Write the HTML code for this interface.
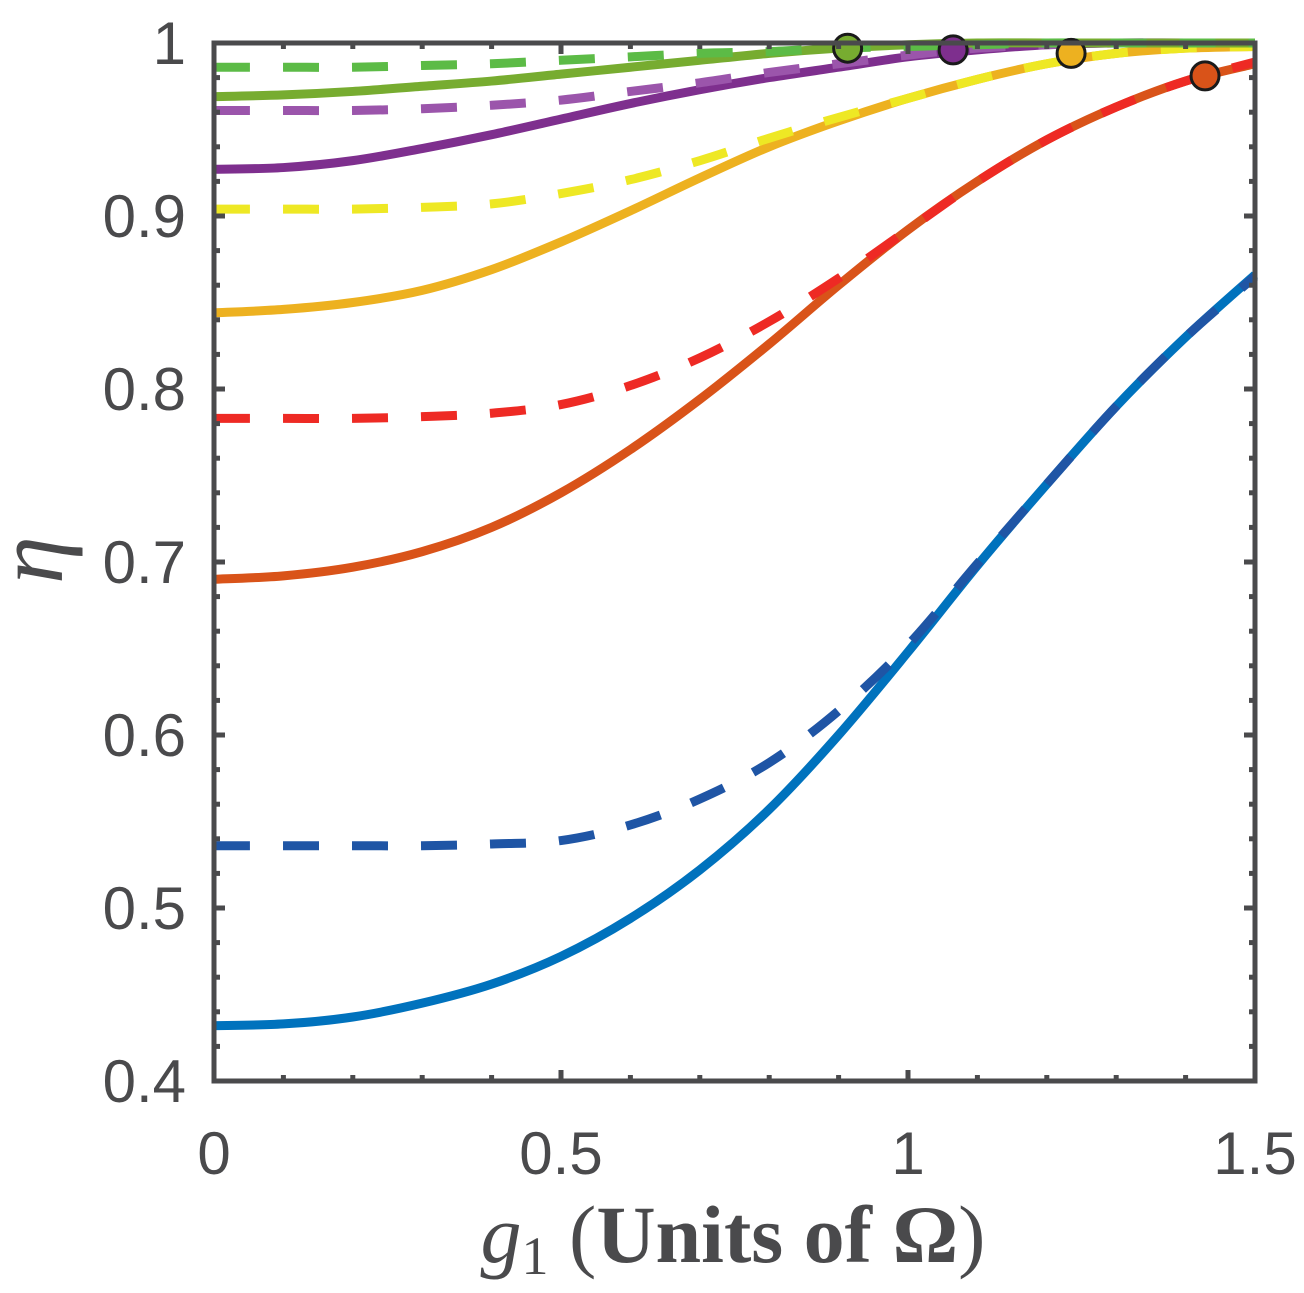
<!DOCTYPE html>
<html><head><meta charset="utf-8"><style>
html,body{margin:0;padding:0;background:#fff;}
svg{display:block;}
</style></head><body>
<svg id="chart" width="1304" height="1293" xmlns="http://www.w3.org/2000/svg">
<g id="plot"></g>
<g id="axes"></g>
<text transform="translate(62,560) rotate(-90)" text-anchor="middle" font-family="Liberation Serif, serif" font-style="italic" font-size="96" fill="#4a4a4c">η</text>
<text x="733" y="1262" text-anchor="middle" font-family="Liberation Serif, serif" font-size="82" fill="#4a4a4c"><tspan font-style="italic">g</tspan><tspan font-size="54" dy="12">1</tspan><tspan dy="-12"> (</tspan><tspan font-weight="bold">Units of Ω</tspan>)</text>
</svg>
<script>
const xs = [0,0.1,0.2,0.3,0.4,0.5,0.6,0.7,0.8,0.9,1.0,1.1,1.2,1.3,1.4,1.5];
const blueSolid = [.432,.433,.437,.445,.456,.472,.494,.522,.557,.600,.648,.698,.745,.790,.830,.866];
const blueDashed = [.536,.536,.536,.536,.537,.539,.548,.563,.584,.614,.652,.699,.745,.790,.830,.865];
const orangeSolid = [.690,.692,.697,.706,.720,.740,.765,.794,.826,.860,.892,.920,.944,.963,.978,.988];
const redDashed = [.783,.783,.783,.784,.786,.791,.802,.818,.839,.864,.892,.920,.944,.963,.978,.989];
const yellowSolid = [.844,.846,.850,.857,.869,.885,.903,.922,.940,.955,.968,.979,.988,.994,.997,.998];
const yellowDashed = [.904,.904,.904,.905,.907,.913,.921,.932,.945,.957,.968,.979,.988,.994,.997,.998];
const purpleSolid = [.927,.928,.932,.939,.947,.956,.965,.973,.980,.986,.992,.996,.999,1,1,1];
const purpleDashed = [.961,.961,.961,.962,.964,.967,.972,.977,.983,.988,.993,.997,.999,1,1,1];
const greenSolid = [.969,.970,.972,.975,.978,.982,.986,.990,.994,.997,.999,1,1,1,1,1];
const greenDashed = [.986,.986,.986,.987,.988,.990,.992,.994,.995,.997,.998,.999,1,1,1,1];
const markerX = [0.913,1.065,1.235,1.428];
const markerY = [0.997,0.996,0.994,0.981];
const xTicks = [0,0.5,1,1.5];
const xTickLabels = ["0","0.5","1","1.5"];
const yTicks = [0.4,0.5,0.6,0.7,0.8,0.9,1];
const yTickLabels = ["0.4","0.5","0.6","0.7","0.8","0.9","1"];

const X0=214,X1=1255,Y0=1081,Y1=43;
function sx(v){return X0+(v-0)/(1.5-0)*(X1-X0);}
function sy(v){return Y0-(v-0.4)/(1-0.4)*(Y0-Y1);}
const NS="http://www.w3.org/2000/svg";
const plot=document.getElementById('plot'), axes=document.getElementById('axes');
function mk(tag,attrs,parent){const e=document.createElementNS(NS,tag);for(const k in attrs)e.setAttribute(k,attrs[k]);parent.appendChild(e);return e;}
function pathFor(ys){
  const p=xs.map((x,i)=>[sx(x),sy(ys[i])]);
  let d=`M${p[0][0]},${p[0][1]}`;
  for(let i=0;i<p.length-1;i++){
    const a=p[Math.max(i-1,0)],b=p[i],c=p[i+1],e=p[Math.min(i+2,p.length-1)];
    const c1=[b[0]+(c[0]-a[0])/6,b[1]+(c[1]-a[1])/6],c2=[c[0]-(e[0]-b[0])/6,c[1]-(e[1]-b[1])/6];
    d+=` C${c1[0]},${c1[1]} ${c2[0]},${c2[1]} ${c[0]},${c[1]}`;
  }
  return d;
}
const series=[
 [blueSolid,'#0072BD',false,'blue-solid-line'],
 [blueDashed,'#1f55a5',true,'blue-dashed-line'],
 [orangeSolid,'#D95319',false,'orange-solid-line'],
 [redDashed,'#ee2a24',true,'red-dashed-line'],
 [yellowSolid,'#EDB120',false,'yellow-solid-line'],
 [yellowDashed,'#eee824',true,'yellow-dashed-line'],
 [purpleSolid,'#7E2F8E',false,'purple-solid-line'],
 [purpleDashed,'#9b55ab',true,'purple-dashed-line'],
 [greenSolid,'#77AC30',false,'green-solid-line'],
 [greenDashed,'#5cbb46',true,'green-dashed-line']
];
series.forEach(s=>{
  const el=mk('path',{d:pathFor(s[0]),fill:'none',stroke:s[1],'stroke-width':9},plot);
  if(s[2])el.setAttribute('stroke-dasharray','36 33');
  
  
});
const mcol=['#77AC30','#7E2F8E','#EDB120','#D95319'];
markerX.forEach((mx,i)=>{
  const c=mk('circle',{cx:sx(mx),cy:sy(markerY[i]),r:14,fill:mcol[i],stroke:'#1a1a1a','stroke-width':3},plot);
  
  
});
const ax='#4a4a4c';
const box=mk('rect',{x:X0,y:Y1,width:X1-X0,height:Y0-Y1,fill:'none',stroke:ax,'stroke-width':5},axes);


for(let i=0;i<=15;i++){
  const v=i*0.1,x=sx(v),L=(i%5===0)?11:6;
  mk('line',{x1:x,y1:Y0,x2:x,y2:Y0-L,stroke:ax,'stroke-width':5},axes);
  mk('line',{x1:x,y1:Y1,x2:x,y2:Y1+L,stroke:ax,'stroke-width':5},axes);
}
for(let i=0;i<=30;i++){
  const v=0.4+i*0.02,y=sy(v),L=(i%5===0)?11:6;
  mk('line',{x1:X0,y1:y,x2:X0+L,y2:y,stroke:ax,'stroke-width':5},axes);
  mk('line',{x1:X1,y1:y,x2:X1-L,y2:y,stroke:ax,'stroke-width':5},axes);
}
xTicks.forEach((v,i)=>{
  const t=mk('text',{x:sx(v),y:1174,'text-anchor':'middle','font-family':'Liberation Sans, sans-serif','font-size':60,fill:ax},axes);
  t.textContent=xTickLabels[i];
  
  
});
yTicks.forEach((v,i)=>{
  const t=mk('text',{x:186,y:sy(v)+21,'text-anchor':'end','font-family':'Liberation Sans, sans-serif','font-size':60,fill:ax},axes);
  t.textContent=yTickLabels[i];
  
  
});
</script>
</body></html>
